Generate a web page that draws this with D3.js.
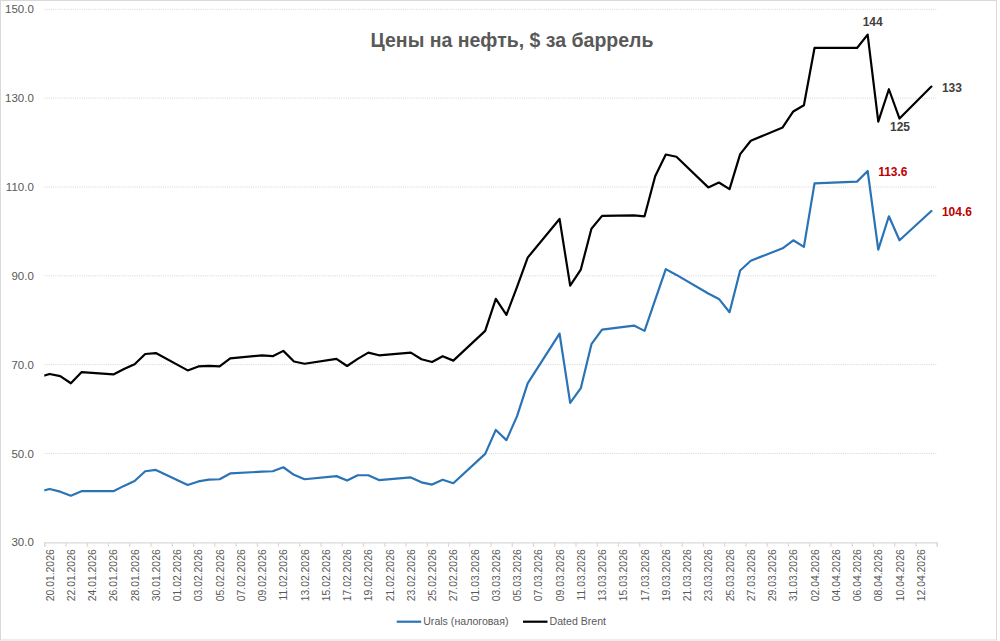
<!DOCTYPE html>
<html>
<head>
<meta charset="utf-8">
<script src="https://cdn.jsdelivr.net/npm/d3@7"></script>
<style>
  html, body { margin: 0; padding: 0; background: #fff; }
  svg { display: block; font-family: "Liberation Sans", Arial, sans-serif; }
</style>
</head>
<body>
<svg id="chart" width="1000" height="641"></svg>
<script>
// ---------------- DATA ----------------
const title = "Цены на нефть, $ за баррель";
const seriesNames = ["Urals (налоговая)", "Dated Brent"];

const dates = [
  "19.01.2026","20.01.2026","21.01.2026","22.01.2026","23.01.2026","26.01.2026","27.01.2026","28.01.2026","29.01.2026","30.01.2026",
  "02.02.2026","03.02.2026","04.02.2026","05.02.2026","06.02.2026","09.02.2026","10.02.2026","11.02.2026","12.02.2026","13.02.2026",
  "16.02.2026","17.02.2026","18.02.2026","19.02.2026","20.02.2026","23.02.2026","24.02.2026","25.02.2026","26.02.2026","27.02.2026",
  "02.03.2026","03.03.2026","04.03.2026","05.03.2026","06.03.2026","09.03.2026","10.03.2026","11.03.2026","12.03.2026","13.03.2026",
  "16.03.2026","17.03.2026","18.03.2026","19.03.2026","20.03.2026","23.03.2026","24.03.2026","25.03.2026","26.03.2026","27.03.2026",
  "30.03.2026","31.03.2026","01.04.2026","02.04.2026","06.04.2026","07.04.2026","08.04.2026","09.04.2026","10.04.2026","13.04.2026"
];

const urals = [
  41.4, 42.0, 41.4, 40.5, 41.5, 41.5, 42.7, 43.8, 46.0, 46.3,
  42.9, 43.7, 44.1, 44.2, 45.5, 45.9, 46.0, 46.9, 45.2, 44.2,
  44.9, 43.9, 45.1, 45.1, 44.0, 44.6, 43.5, 43.0, 44.1, 43.3,
  49.9, 55.3, 53.0, 58.4, 65.8, 77.0, 61.4, 64.7, 74.6, 77.9,
  78.8, 77.6, 84.6, 91.5, 90.2, 86.0, 84.8, 81.8, 91.2, 93.4,
  96.2, 98.0, 96.5, 110.8, 111.2, 113.6, 95.9, 103.4, 98.0, 104.6
];

const brent = [
  67.2, 67.9, 67.4, 65.8, 68.3, 67.8, 69.0, 70.1, 72.4, 72.6,
  68.7, 69.6, 69.7, 69.6, 71.4, 72.1, 71.9, 73.1, 70.7, 70.2,
  71.3, 69.7, 71.3, 72.7, 72.1, 72.7, 71.2, 70.6, 71.9, 70.9,
  77.6, 84.8, 81.2, 87.5, 94.1, 102.8, 87.8, 91.4, 100.6, 103.5,
  103.6, 103.4, 112.4, 117.3, 116.8, 109.9, 111.0, 109.5, 117.4, 120.4,
  123.4, 127.0, 128.4, 141.3, 141.3, 144.3, 124.7, 132.0, 125.4, 132.6
];

const axisStart = "20.01.2026";
const axisEnd = "14.04.2026";
const yTicks = [30, 50, 70, 90, 110, 130, 150];

// data labels: series index, date, position
const dataLabels = [
  { s: 1, date: "07.04.2026", pos: "above", fmt: ".0f" },
  { s: 1, date: "10.04.2026", pos: "below", fmt: ".0f" },
  { s: 1, date: "13.04.2026", pos: "right", fmt: ".0f" },
  { s: 0, date: "07.04.2026", pos: "right", fmt: ".1f" },
  { s: 0, date: "13.04.2026", pos: "right", fmt: ".1f" }
];

// ---------------- CHART ----------------
const parse = d3.utcParse("%d.%m.%Y");
const fmtDate = d3.utcFormat("%d.%m.%Y");
const colors = ["#2a73b6", "#000000"];
const labelColors = ["#c00000", "#404040"];
const seriesVals = [urals, brent];

const svg = d3.select("#chart");
const W = 1000, H = 641;
const plot = { left: 44.3, right: 936.7, top: 9.3, bottom: 542.3 };

// border
svg.append("rect").attr("x", 0.5).attr("y", 0.5).attr("width", 996).attr("height", 639.5)
  .attr("fill", "#fff").attr("stroke", "#d9d9d9").attr("stroke-width", 1);

const x0 = parse(axisStart), x1 = parse(axisEnd);
const x = d3.scaleUtc().domain([x0, x1]).range([plot.left, plot.right]);
const y = d3.scaleLinear().domain([30, 150]).range([plot.bottom, plot.top]);

const mid = d => d3.utcHour.offset(parse(d), 12);

// gridlines
svg.append("g").selectAll("line").data(yTicks.filter(v => v > 30)).join("line")
  .attr("x1", plot.left).attr("x2", plot.right)
  .attr("y1", d => y(d)).attr("y2", d => y(d))
  .attr("stroke", "#d4d4d4").attr("stroke-width", 1).attr("stroke-dasharray", "1,1.2");

// y axis labels
const yAxis = svg.append("g").attr("transform", `translate(${plot.left},0)`)
  .call(d3.axisLeft(y).tickValues(yTicks).tickSize(0).tickPadding(10.5).tickFormat(d3.format(".1f")));
yAxis.select(".domain").remove();
yAxis.selectAll("text").attr("fill", "#595959").style("font-size", "11.5px")
  .style("font-family", "'Liberation Sans', Arial, sans-serif");

// x axis: ticks at slot boundaries
const tickDates = d3.utcDay.range(x0, d3.utcDay.offset(x1, 1), 2);
const xAxisTicks = svg.append("g").attr("transform", `translate(0,${plot.bottom})`)
  .call(d3.axisBottom(x).tickValues(tickDates).tickSize(4.5).tickFormat(""));
xAxisTicks.select(".domain").attr("stroke", "#d9d9d9").attr("stroke-width", 1.2);
xAxisTicks.selectAll(".tick line").attr("stroke", "#d9d9d9").attr("stroke-width", 1.2);

// x labels centered in slots
const labelDates = d3.utcDay.range(x0, x1, 2).map(d => d3.utcHour.offset(d, 12));
const xAxisLabels = svg.append("g").attr("transform", `translate(0,${plot.bottom})`)
  .call(d3.axisBottom(x).tickValues(labelDates).tickSize(0).tickFormat(fmtDate));
xAxisLabels.select(".domain").remove();
xAxisLabels.selectAll("text")
  .attr("fill", "#595959").style("font-size", "10.4px")
  .style("font-family", "'Liberation Sans', Arial, sans-serif")
  .attr("text-anchor", "end").attr("dy", "0.35em")
  .attr("transform", "translate(0,7) rotate(-90)")
  .attr("x", 0).attr("y", 0);

// clip
svg.append("clipPath").attr("id", "clip").append("rect")
  .attr("x", plot.left).attr("y", 0).attr("width", plot.right - plot.left).attr("height", H);

const line = d3.line().x(d => x(d.date)).y(d => y(d.v));
const series = seriesVals.map((vals, s) => dates.map((d, i) => ({ date: mid(d), v: vals[i] })));

svg.append("g").attr("clip-path", "url(#clip)").selectAll("path").data(series).join("path")
  .attr("d", line).attr("fill", "none")
  .attr("stroke", (d, i) => colors[i]).attr("stroke-width", 2.2)
  .attr("stroke-linejoin", "round").attr("stroke-linecap", "round");

// data labels
dataLabels.forEach(l => {
  const i = dates.indexOf(l.date);
  const v = seriesVals[l.s][i];
  const px = x(mid(l.date)), py = y(v);
  let tx = px, ty = py, anchor = "middle";
  if (l.pos === "above") { tx = px + 5; ty = py - 9; }
  if (l.pos === "below") { tx = px + 0.5; ty = py + 12.5; }
  if (l.pos === "right") { tx = px + 10.5; ty = py + 5; anchor = "start"; }
  svg.append("text").attr("x", tx).attr("y", ty).attr("text-anchor", anchor)
    .attr("fill", labelColors[l.s]).style("font-size", "12px").style("font-weight", "bold")
    .text(d3.format(l.fmt)(v));
});

// title
svg.append("text").attr("x", 512).attr("y", 47).attr("text-anchor", "middle")
  .attr("fill", "#595959").style("font-size", "19.5px").style("font-weight", "bold")
  .text(title);

// legend
const legendX = [396.7, 523];
const legendY = 621.7;
seriesNames.forEach((name, i) => {
  const g = svg.append("g").attr("transform", `translate(${legendX[i]},${legendY})`);
  g.append("line").attr("x1", 0).attr("x2", 24.5).attr("y1", 0).attr("y2", 0)
    .attr("stroke", colors[i]).attr("stroke-width", 2.2);
  g.append("text").attr("x", 26.5).attr("y", 0).attr("dy", "0.35em")
    .attr("fill", "#595959").style("font-size", "10.6px").text(name);
});
</script>
</body>
</html>
